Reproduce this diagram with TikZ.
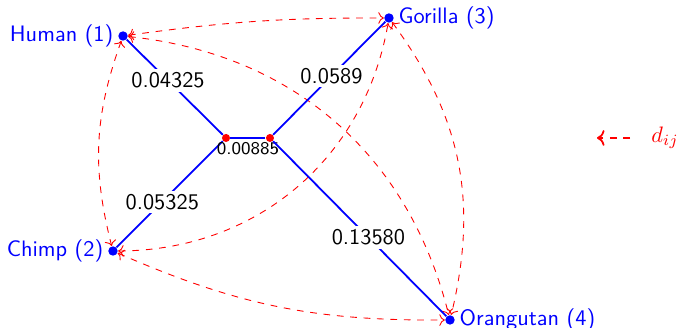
\documentclass[tikz,border=0pt]{standalone}
\usetikzlibrary{arrows.meta}

\begin{document}
\begin{tikzpicture}[every node/.style={font=\sffamily},
    leaf/.style={circle, fill=blue, inner sep=0pt, minimum size=4.2pt},
    inner/.style={circle, fill=red, inner sep=0pt, minimum size=3.6pt},
    branch/.style={blue, thick},
    dist/.style={red, dashed, <->},
    lbl/.style={fill=white, text=black, inner sep=1.5pt}]
  \useasboundingbox (0,0) rectangle (10.69,5.156);

  % leaves and internal nodes of the tree
  \node[leaf, label={[text=blue, label distance=-1.5pt]left:Human (1)}] (human) at (1.934, 4.590) {};
  \node[leaf, label={[text=blue, label distance=-1.5pt]left:Chimp (2)}] (chimp) at (1.776, 1.210) {};
  \node[leaf, label={[text=blue, label distance=-1.5pt]right:Gorilla (3)}] (gorilla) at (6.115, 4.873) {};
  \node[leaf, label={[text=blue, label distance=-1.5pt]right:Orangutan (4)}] (orang) at (7.074, 0.126) {};
  \node[inner] (u) at (3.553, 2.987) {};
  \node[inner] (v) at (4.244, 2.987) {};

  % pairwise distances
  \draw[dist] (human) to[bend left=4] (gorilla);
  \draw[dist] (human) to[bend right=17] (chimp);
  \draw[dist] (human) to[bend left=35] (orang);
  \draw[dist] (chimp) to[bend right=40] (gorilla);
  \draw[dist] (chimp) to[bend right=12] (orang);
  \draw[dist] (gorilla) to[bend left=25] (orang);

  % branches
  \draw[branch] (human) -- (u) node[lbl, pos=0.43] {0.04325};
  \draw[branch] (chimp) -- (u) node[lbl, pos=0.43] {0.05325};
  \draw[branch] (u) -- (v) node[midway, below, text=black, font=\sffamily\footnotesize, inner sep=1.5pt] {0.00885};
  \draw[branch] (v) -- (gorilla) node[lbl, pos=0.52] {0.0589};
  \draw[branch] (v) -- (orang) node[lbl, pos=0.55] {0.13580};

  % legend
  \coordinate (keyA) at (9.904, 2.987);
  \coordinate (keyB) at (9.385, 2.987);
  \node[red, anchor=center] (dij) at (10.454, 2.987) {$d_{ij}$};
  \draw[red, dashed, ->, thick] (keyA) -- (keyB);
\end{tikzpicture}
\end{document}
